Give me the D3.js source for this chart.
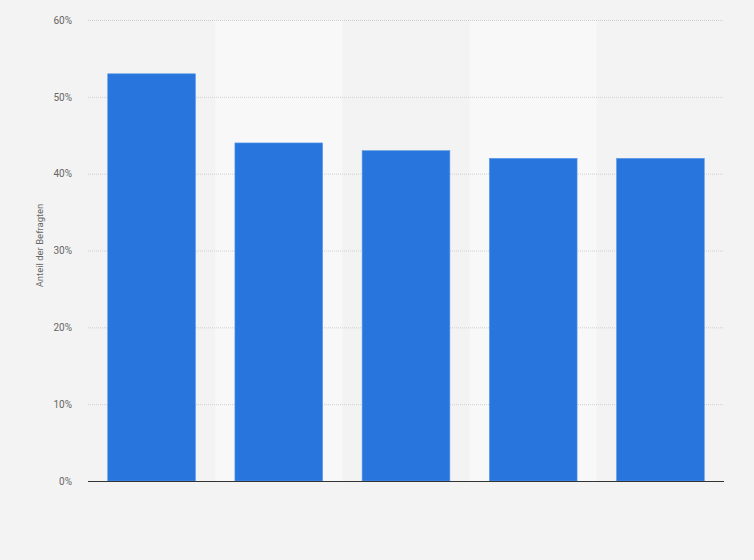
<!DOCTYPE html>
<html>
<head>
<meta charset="utf-8">
<script src="https://d3js.org/d3.v7.min.js"></script>
<style>
	body {margin:0; background:#f3f3f3;}
	text {font-family: Roboto, "Liberation Sans", Arial, sans-serif;}
</style>
</head>
<body>
<div id="chart"></div>
<script>
// values (share of respondents, %)
var categories = ["A", "B", "C", "D", "E"];
var values = [53, 44, 43, 42, 42];
var yTicks = [0, 10, 20, 30, 40, 50, 60];

var width = 754, height = 560;
var plotLeft = 88, plotRight = 724, plotTop = 20, plotBottom = 481;

var svg = d3.select("#chart").append("svg")
	.attr("width", width)
	.attr("height", height);

svg.append("rect")
	.attr("width", width).attr("height", height)
	.attr("fill", "#f3f3f3");

var x = d3.scaleBand()
	.domain(categories)
	.range([plotLeft, plotRight])
	.paddingInner(0.31)
	.paddingOuter(0.155);

var y = d3.scaleLinear()
	.domain([0, 60])
	.range([plotBottom, plotTop]);

// alternating column bands
var step = x.step();
svg.selectAll("rect.band").data(categories.filter(function(d, i) { return i % 2 == 1; }))
	.enter().append("rect")
	.attr("class", "band")
	.attr("x", function(d) { return x(d) - x.paddingInner() * step / 2; })
	.attr("y", plotTop)
	.attr("width", step)
	.attr("height", plotBottom - plotTop)
	.attr("fill", "#f8f8f8");

// grid lines
svg.selectAll("line.grid").data(yTicks.filter(function(d) { return d > 0; }))
	.enter().append("line")
	.attr("class", "grid")
	.attr("x1", plotLeft).attr("x2", plotRight)
	.attr("y1", function(d) { return y(d) + 0.5; })
	.attr("y2", function(d) { return y(d) + 0.5; })
	.attr("stroke", "#cfcfcf")
	.attr("stroke-width", 1)
	.attr("stroke-dasharray", "1,1");

// y axis
var yAxis = d3.axisLeft(y)
	.tickValues(yTicks)
	.tickFormat(function(d) { return d + "%"; })
	.tickSize(0)
	.tickPadding(16);

var gy = svg.append("g")
	.attr("transform", "translate(" + plotLeft + ",0)")
	.call(yAxis);
gy.select(".domain").remove();
gy.selectAll("text")
	.attr("fill", "#666")
	.attr("font-size", "10px")
	.attr("font-family", "Roboto, 'Liberation Sans', Arial, sans-serif");

// bars
svg.selectAll("rect.bar").data(values)
	.enter().append("rect")
	.attr("class", "bar")
	.attr("x", function(d, i) { return x(categories[i]); })
	.attr("y", function(d) { return y(d); })
	.attr("width", x.bandwidth())
	.attr("height", function(d) { return plotBottom - y(d); })
	.attr("fill", "#2876dd")
	.attr("stroke", "#5f9be8")
	.attr("stroke-width", 0.6);

// x axis line
svg.append("line")
	.attr("x1", plotLeft).attr("x2", plotRight)
	.attr("y1", plotBottom + 0.5).attr("y2", plotBottom + 0.5)
	.attr("stroke", "#333")
	.attr("stroke-width", 1.2);

// axis title
svg.append("text")
	.attr("transform", "translate(43," + ((plotTop + plotBottom) / 2 - 5) + ") rotate(-90)")
	.attr("text-anchor", "middle")
	.attr("font-size", "9.5px")
	.attr("fill", "#666")
	.text("Anteil der Befragten");
</script>
</body>
</html>
